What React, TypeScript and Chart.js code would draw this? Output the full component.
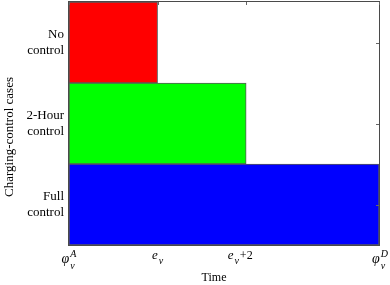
import React, { useEffect, useRef } from "react";
import { Chart, registerables } from "chart.js";

Chart.register(...registerables);

// ---- data ----
const categories: string[][] = [
  ["No", "control"],
  ["2-Hour", "control"],
  ["Full", "control"],
];
const barStarts = [0, 0, 0]; // hours from φ_v^A
const barEnds = [2, 4, 7];
const barColors = ["#ff0000", "#00ff00", "#0000ff"];

const xMin = 0;
const xMax = 7;
const xTickValues = [0, 2, 4, 7];
const xTickBases = ["φ", "e", "e", "φ"];
const xTickSubs = ["v", "v", "v", "v"];
const xTickSups = ["A", "", "", "D"];
const xTickSuffixes = ["", "", "+2", ""];

const xTitle = "Time";
const yTitle = "Charging-control cases";

// ---- styles ----
const SERIF = '"Liberation Serif", "Times New Roman", serif';
const labelShift = [0, 0, -6, 1];

const decorPlugin = {
  id: "decor",
  afterDraw(chart: any) {
    const { ctx, chartArea } = chart;
    const { left, right, top, bottom } = chartArea;
    const xs = chart.scales.x;
    const ys = chart.scales.y;
    ctx.save();

    // frame
    ctx.strokeStyle = "#4a4a4a";
    ctx.lineWidth = 1;
    ctx.strokeRect(left - 0.5, top - 0.5, right - left + 1, bottom - top + 1);

    // inward ticks on top and right
    ctx.strokeStyle = "#666";
    xTickValues.forEach((v) => {
      const px = Math.round(xs.getPixelForValue(v)) + 0.5;
      ctx.beginPath();
      ctx.moveTo(px, top);
      ctx.lineTo(px, top + 3);
      ctx.stroke();
    });
    categories.forEach((_, i) => {
      const py = Math.round(ys.getPixelForValue(i)) + 0.5;
      ctx.beginPath();
      ctx.moveTo(right, py);
      ctx.lineTo(right - 3, py);
      ctx.stroke();
    });

    // x tick labels (math style)
    ctx.fillStyle = "#000";
    ctx.textBaseline = "alphabetic";
    ctx.textAlign = "left";
    const scriptFont = `italic 10px ${SERIF}`;
    const suffixFont = `12px ${SERIF}`;
    xTickValues.forEach((v, i) => {
      const tx = xs.getPixelForValue(v) + labelShift[i];
      const base = xTickBases[i];
      const sub = xTickSubs[i];
      const sup = xTickSups[i];
      const suf = xTickSuffixes[i];
      const baseFont = sup ? `italic 14px ${SERIF}` : `italic 13px ${SERIF}`;
      ctx.font = baseFont;
      const wb = ctx.measureText(base).width;
      ctx.font = scriptFont;
      const wsc = Math.max(ctx.measureText(sub).width, ctx.measureText(sup).width);
      ctx.font = suffixFont;
      const wsuf = suf ? ctx.measureText(suf).width + 1 : 0;
      const total = wb + 1 + wsc + wsuf;
      let x = tx - total / 2;
      const baseY = sup ? bottom + 18 : bottom + 14;
      ctx.font = baseFont;
      ctx.fillText(base, x, baseY);
      x += wb + 1;
      ctx.font = scriptFont;
      if (sup) ctx.fillText(sup, x, baseY - 6.5);
      if (sub) ctx.fillText(sub, x, baseY + (sup ? 6 : 4.5));
      x += wsc;
      if (suf) {
        ctx.font = suffixFont;
        ctx.fillText(suf, x + 1, baseY);
      }
    });

    // x title
    ctx.font = `12px ${SERIF}`;
    ctx.textAlign = "center";
    ctx.textBaseline = "alphabetic";
    ctx.fillText(xTitle, (left + right) / 2 - 10, bottom + 36);

    // y title
    ctx.translate(9.5, 137);
    ctx.rotate(-Math.PI / 2);
    ctx.font = `13px ${SERIF}`;
    ctx.textAlign = "center";
    ctx.textBaseline = "middle";
    ctx.fillText(yTitle, 0, 0);

    ctx.restore();
  },
};

export default function App() {
  const ref = useRef<HTMLCanvasElement | null>(null);

  useEffect(() => {
    if (!ref.current) return;
    const chart = new Chart(ref.current, {
      type: "bar",
      data: {
        labels: categories,
        datasets: [
          {
            data: barStarts.map((s, i) => [s, barEnds[i]]) as any,
            backgroundColor: barColors,
            borderColor: "#5a5a5a",
            borderWidth: 1,
            borderSkipped: false,
            barPercentage: 1,
            categoryPercentage: 1,
          },
        ],
      },
      options: {
        indexAxis: "y",
        animation: false,
        responsive: false,
        maintainAspectRatio: false,
        devicePixelRatio: 1,
        layout: { padding: { left: 0, top: 2, right: 11, bottom: 0 } },
        plugins: {
          legend: { display: false },
          tooltip: { enabled: false },
        },
        scales: {
          x: {
            type: "linear",
            min: xMin,
            max: xMax,
            grid: { display: false, drawTicks: false },
            border: { display: false },
            ticks: { display: false },
            afterFit: (s: any) => {
              s.height = 40;
              s.paddingLeft = 0;
              s.paddingRight = 0;
            },
          },
          y: {
            type: "category",
            grid: { display: false, drawTicks: false },
            border: { display: false },
            ticks: {
              padding: 5,
              color: "#000",
              font: { family: SERIF, size: 13, lineHeight: 1.2 },
            },
            afterFit: (s: any) => {
              s.width = 69;
              s.paddingTop = 0;
              s.paddingBottom = 0;
            },
          },
        },
      } as any,
      plugins: [decorPlugin],
    });
    return () => chart.destroy();
  }, []);

  return (
    <div style={{ position: "absolute", left: 0, top: 0, width: 390, height: 285, background: "#fff" }}>
      <canvas ref={ref} width={390} height={285} style={{ display: "block" }} />
    </div>
  );
}
